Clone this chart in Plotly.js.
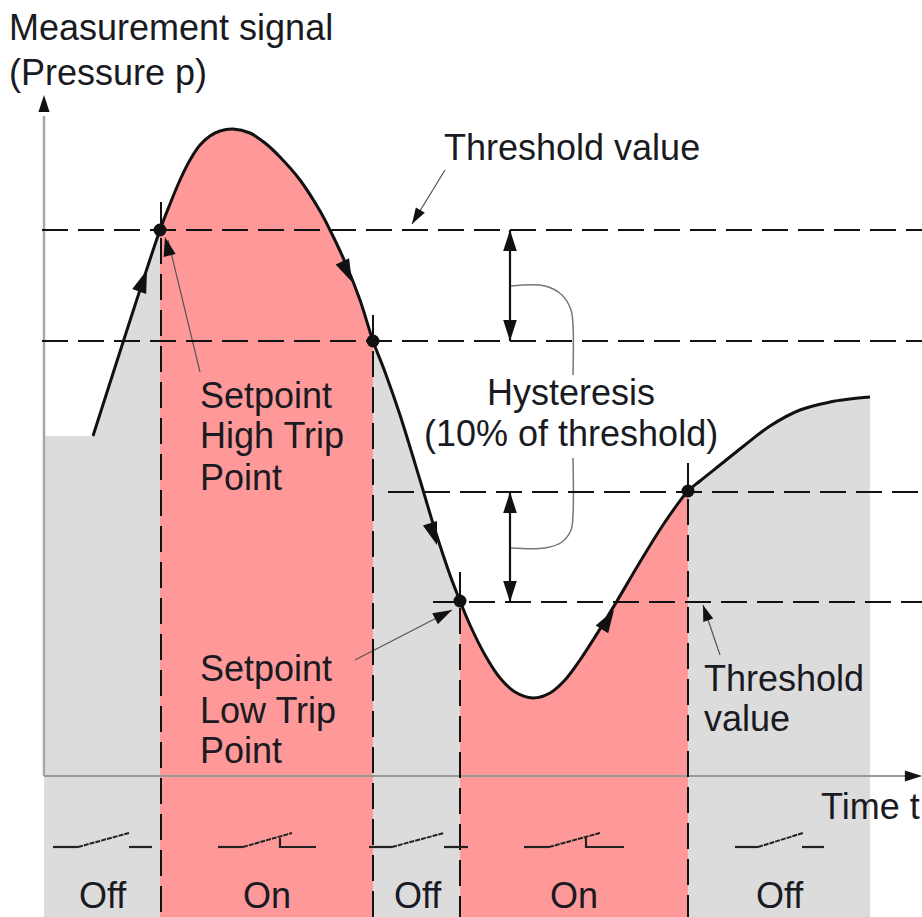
<!DOCTYPE html>
<html><head><meta charset="utf-8">
<script src="https://cdn.plot.ly/plotly-3.0.1.min.js"></script>
<style>html,body{margin:0;padding:0;background:#fff}#c{width:922px;height:917px}</style>
</head><body><div id="c"></div>
<script>
// Measured signal: time t, pressure p (origin at the axes crossing)
const curveT = [49,116,126,136,146,156,166,176,189,206,221,236,256,276,286,301,316,329,341,356,376,391,406,416,426,441,456,471,489,506,521,536,556,573,596,621,644,656,676,701,726,756,786,806,826];
const curveP = [340,546,572,596,616,631,640,645,647,643,633,619,596,565,546,514,476,435,404,361,296,246,201,175,151,121,98,84,78,83,96,116,147,175,214,254,285,295,311,331,350,366,374,377,379];
const floorP = -141;
const plotEndT = 878;
// Thresholds
const thresholdP = [546,435,284,174];
const thresholdStart = [-2,-2,344,389];
// Trip points
const tripT = [116,329,644,416];
const tripP = [546,435,285,175];
const dashT = [117,329,644,416];
const tripTop = [574,461,313,204];
// Arrow heads (tip position, direction)
const headT = [103,308,393,570, 466,466,466,466, 121,368,408,659, 0,878];
const headP = [506,494,231,166, 546,435,284,174, 539,552,166,171, 681,0];
const headAngle = [20,155,162,32, 0,180,0,180, -14,211,63,-19, 0,90];
const headSize = [24,24,24,24, 22,22,22,22, 20,17,20,17, 18,18];
// Thin leaders
const leaderT = [156,124,null,401,368,null,311,408,null,676,659];
const leaderP = [404,536,null,606,552,null,116,166,null,121,171];
// Hysteresis
const spanT = [466,466,null,466,466];
const spanP = [546,435,null,284,174];
const braceT1 = [467,501,518,527,529,529];
const braceP1 = [490,490,481,466,451,401];
const braceT2 = [529,529,527,518,501,467];
const braceP2 = [318,261,246,234,228,228];
// Contact symbols
const contactT = [9,34,null,85,108,null,174,199,null,236,236,272,null,325,348,null,400,424,null,480,505,null,542,542,580,null,691,714,null,758,780];
const contactP = [-71,-71,null,-71,-71,null,-71,-71,null,-62,-71,-71,null,-71,-71,null,-71,-71,null,-71,-71,null,-62,-71,-71,null,-71,-71,null,-71,-71];
const bladeT = [34,85,null,199,248,null,348,400,null,505,556,null,714,759];
const bladeP = [-71,-57,null,-71,-57,null,-71,-57,null,-71,-57,null,-71,-57];
// Labels
const labelText = ['Measurement signal','(Pressure p)','Threshold value','Setpoint','High Trip','Point','Hysteresis','(10% of threshold)','Setpoint','Low Trip','Point','Threshold','value','Time t','Off','On','Off','On','Off'];
const labelT = [-37,-37,398,154,154,154,527,527,154,154,154,658,658,775,59,223,374,530,736];
const labelP = [749,704,629,381,341,299,384,343,108,66,26,98,58,-30,-119,-119,-119,-119,-119];
const labelAnchor = ['left','left','left','left','left','left','center','center','left','left','left','left','left','left','center','center','center','center','center'];

const GRAY='#dcdcdc', RED='#ff9999', INK='#111111';
function band(a,b){
  const i=curveT.indexOf(a), j=curveT.indexOf(b);
  const x=curveT.slice(i,j+1), y=curveP.slice(i,j+1);
  return {x:[a,...x,b],y:[floorP,...y,floorP]};
}
const fill=(d,c)=>({x:d.x,y:d.y,mode:'lines',fill:'toself',fillcolor:c,line:{width:0},type:'scatter'});
const line=(x,y,w,c,dash,shape)=>({x,y,mode:'lines',type:'scatter',connectgaps:false,line:{width:w,color:c,dash:dash||'solid',shape:shape||'linear'}});
const DASH='26px,10px';
const hx=[],hy=[];
thresholdP.forEach((p,i)=>{hx.push(thresholdStart[i],plotEndT,null);hy.push(p,p,null);});
const vx=[],vy=[];
dashT.forEach((t,i)=>{vx.push(t,t,null);vy.push(tripTop[i],floorP,null);});
const traces=[
  fill({x:[0,0,...curveT,826],y:[floorP,340,...curveP,floorP]},GRAY),
  fill(band(116,329),RED),
  fill(band(416,644),RED),
  line([0,0],[0,660],2.5,'#a8a8a8'),
  line([0,870],[0,0],2,'#9a9a9a'),
  line(leaderT,leaderP,1.2,'#555555'),
  line(braceT1,braceP1,1.5,'#777777','solid','spline'),
  line(braceT2,braceP2,1.5,'#777777','solid','spline'),
  line(hx,hy,2,INK,DASH),
  line(vx,vy,2,INK,DASH),
  line(spanT,spanP,2.2,INK),
  line(curveT,curveP,3,INK,'solid','spline'),
  line(contactT,contactP,2.2,'#222222'),
  line(bladeT,bladeP,2,'#222222','5px,1px'),
  {x:headT,y:headP,mode:'markers',type:'scatter',marker:{symbol:'arrow',size:headSize,angle:headAngle,color:INK,opacity:1,line:{width:0}}},
  {x:tripT,y:tripP,mode:'markers',type:'scatter',marker:{symbol:'circle',size:13,color:INK,opacity:1,line:{width:0}}}
];
const annotations=labelText.map((t,i)=>({text:t,x:labelT[i],y:labelP[i],xref:'x',yref:'y',xanchor:labelAnchor[i],yanchor:'middle',showarrow:false,font:{family:'Liberation Sans, Arial, sans-serif',size:36,color:'#1a1a22'}}));
const layout={width:922,height:917,margin:{l:0,r:0,t:0,b:0},showlegend:false,paper_bgcolor:'#fff',plot_bgcolor:'#fff',hovermode:false,
  xaxis:{range:[-44,878],visible:false,fixedrange:true},yaxis:{range:[-141,776],visible:false,fixedrange:true},annotations};
Plotly.newPlot('c',traces,layout,{displayModeBar:false,staticPlot:true});
</script></body></html>
